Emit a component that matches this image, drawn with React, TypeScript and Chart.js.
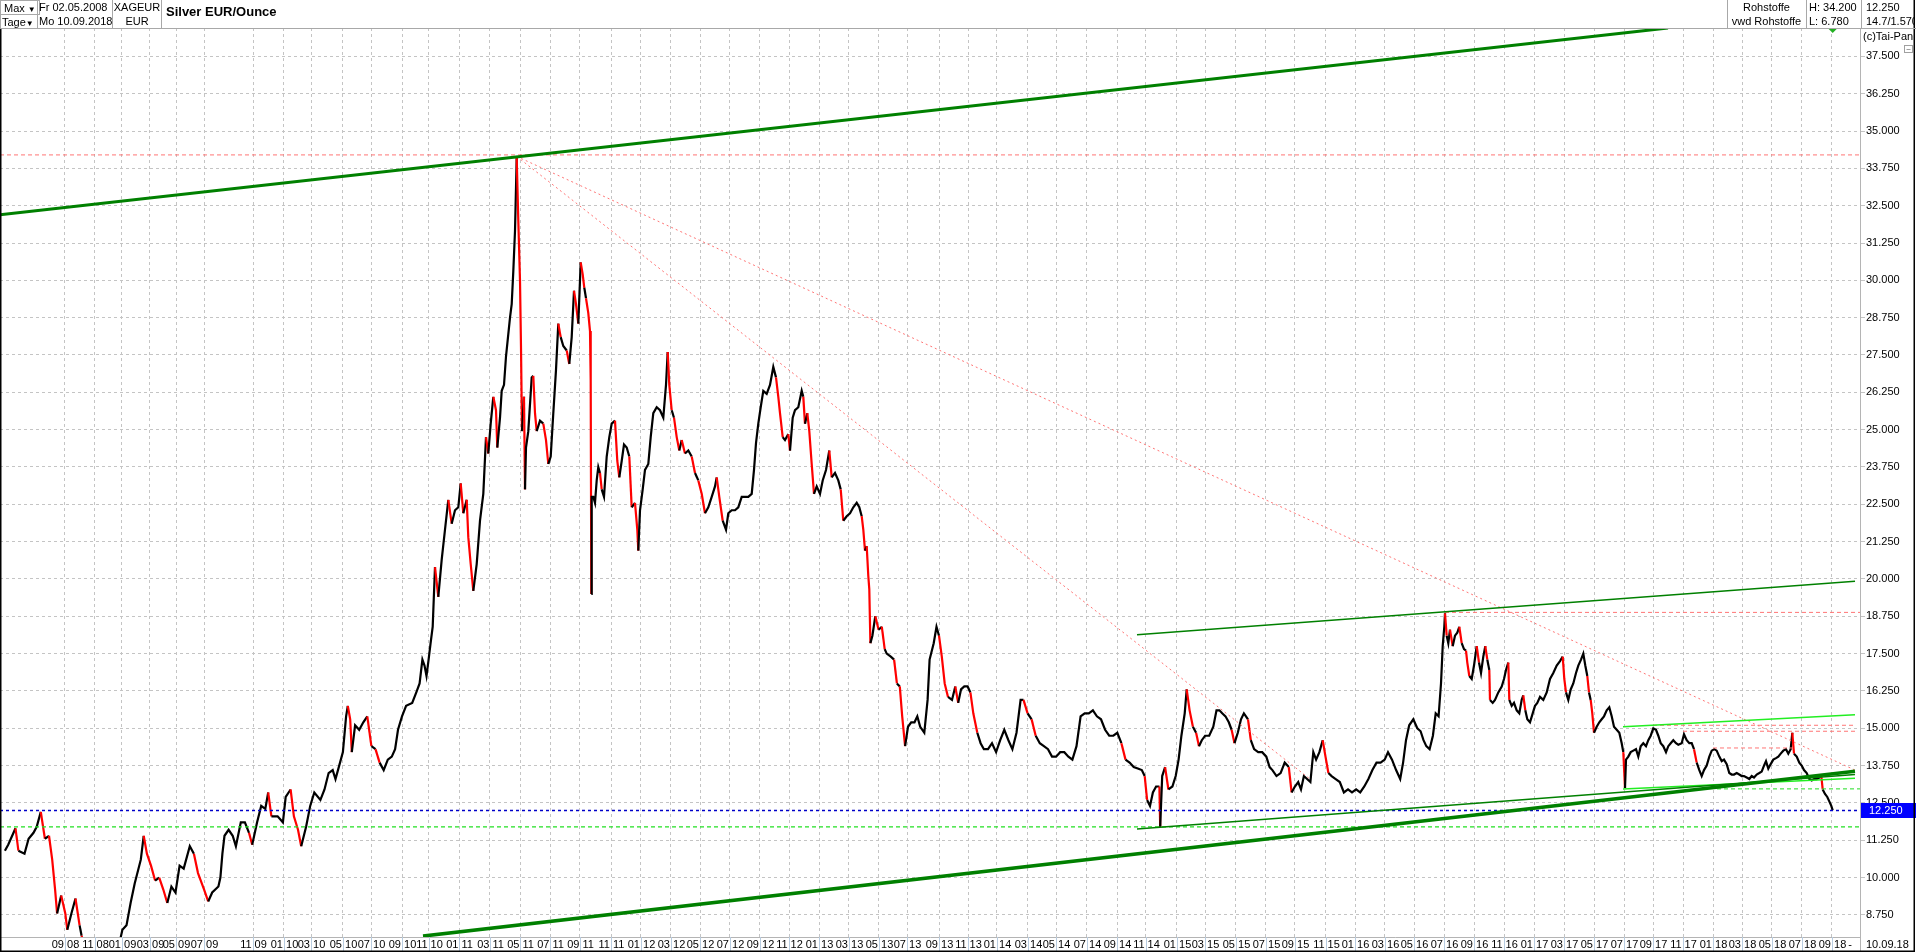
import React, { useEffect, useRef } from "react";
import { Chart, registerables } from "chart.js";

Chart.register(...registerables);

const FONT = 'Arial, "Liberation Sans", sans-serif';

// bar position (trading-bar axis) and close value of Silver EUR/Ounce
const priceBar = [
  4.9, 8.2, 15.5, 18.4, 24.5, 28.6, 33.5, 36.7, 40.8, 44.9, 49.0, 52.2, 55.1, 57.1, 61.2, 65.3, 67.3, 71.4, 75.5, 79.6,
  81.6, 86, 95, 100, 105, 112, 118, 122.4, 126.5, 130.6, 134.7, 140.8, 143.7, 146.9, 151.0, 155.1, 159.2, 163.3, 167.3, 171.4,
  175.5, 179.6, 183.7, 189.8, 193.9, 198.0, 204.1, 208.2, 212.2, 218.4, 220.4, 222.4, 224.5, 228.6, 232.7, 235.9, 240.8, 244.9, 249.0, 252.2,
  257.1, 261.2, 265.3, 268.2, 271.4, 277.6, 282.9, 285.7, 290.6, 293.9, 298.0, 301.2, 306.1, 310.2, 314.3, 320.4, 324.5, 328.6, 332.7, 335.5,
  338.8, 342.9, 346.1, 347.8, 350.2, 351.8, 355.1, 359.2, 363.3, 367.3, 371.4, 375.5, 379.6, 383.7, 387.8, 391.8, 395.1, 398.0, 402.0, 406.1,
  412.2, 416.3, 419.6, 422.4, 424.5, 426.5, 428.6, 430.6, 432.7, 435.0, 438.3, 441.7, 445.0, 448.3, 451.7, 455.0, 458.3, 460.7, 463.3, 466.7,
  468.3, 470.7, 473.3, 476.7, 480.0, 483.3, 486.0, 488.3, 490.7, 493.3, 496.0, 497.3, 500.0, 501.7, 504.0, 506.0, 508.3, 510.0, 511.7, 513.3,
  515.0, 516.7, 518.3, 520.0, 521.0, 522.0, 524.0, 525.0, 526.0, 528.3, 531.7, 533.3, 535.0, 536.7, 540.0, 543.3, 546.0, 548.3, 550.7, 553.3,
  556.0, 558.3, 560.7, 563.3, 566.7, 569.3, 571.7, 574.0, 576.0, 578.3, 580.7, 582.7, 584.3, 586.0, 588.3, 590.0, 590.7, 591.3, 591.7, 593.3,
  595.0, 596.7, 598.3, 600.0, 601.7, 604.0, 606.7, 609.3, 611.7, 615.0, 617.3, 619.3, 621.7, 624.0, 626.7, 629.3, 631.7, 635.0, 637.3, 638.3,
  640.0, 642.7, 645.0, 648.3, 650.7, 653.3, 656.7, 660.0, 663.3, 666.0, 667.7, 669.3, 671.7, 674.0, 676.7, 679.3, 681.7, 685.0, 688.3, 691.7,
  695.0, 698.3, 701.7, 705.0, 708.3, 711.7, 715.0, 716.7, 719.3, 722.7, 726.0, 728.3, 731.7, 735.0, 738.3, 741.7, 745.0, 748.3, 751.7, 754.0,
  756.0, 758.3, 760.7, 763.3, 766.7, 770.0, 773.3, 776.0, 778.3, 780.0, 782.7, 785.0, 788.3, 790.0, 792.7, 795.0, 798.3, 801.7, 803.3, 805.0,
  807.3, 809.3, 811.7, 814.0, 816.7, 820.0, 822.7, 826.0, 829.3, 831.7, 835.0, 838.3, 840.7, 843.3, 846.7, 850.0, 853.3, 856.7, 859.3, 861.7,
  863.3, 865.0, 866.7, 868.3, 869.3, 870.4, 872.4, 875.3, 878.6, 881.8, 884.7, 886.7, 890.8, 894.1, 896.9, 899.8, 902.2, 905.1, 908.0, 911.2,
  914.5, 917.3, 920.2, 924.3, 927.6, 929.6, 933.7, 936.5, 939.0, 941.8, 944.7, 948.0, 952.0, 955.3, 958.2, 961.0, 964.3, 967.6, 970.4, 973.3,
  977.3, 980.6, 983.9, 988.0, 992.0, 996.1, 1000.2, 1004.3, 1008.4, 1012.4, 1016.5, 1020.6, 1023.5, 1027.6, 1031.6, 1035.7, 1039.8, 1043.9, 1048.0, 1052.0,
  1056.1, 1060.2, 1064.3, 1068.4, 1072.4, 1076.5, 1080.6, 1084.7, 1088.8, 1092.9, 1096.9, 1101.0, 1105.1, 1109.2, 1113.3, 1117.3, 1121.4, 1125.5, 1129.6, 1133.7,
  1137.8, 1141.8, 1144.7, 1147.1, 1150.0, 1152.9, 1156.1, 1159.4, 1160.2, 1162.2, 1165.1, 1168.4, 1172.4, 1175.7, 1178.6, 1181.4, 1184.7, 1186.7, 1189.6, 1192.9,
  1196.1, 1199.0, 1201.8, 1205.1, 1209.2, 1213.3, 1216.5, 1219.4, 1222.2, 1225.5, 1228.8, 1231.6, 1234.5, 1237.8, 1241.0, 1243.9, 1248.0, 1250.8, 1254.1, 1258.2,
  1262.2, 1266.3, 1269.6, 1272.4, 1276.5, 1280.6, 1284.7, 1288.8, 1291.6, 1294.9, 1298.2, 1301.0, 1303.9, 1307.1, 1310.4, 1313.3, 1316.1, 1319.4, 1322.7, 1325.5,
  1328.4, 1331.6, 1335.7, 1339.8, 1343.9, 1348.0, 1352.0, 1356.1, 1360.2, 1364.3, 1368.4, 1372.4, 1376.5, 1380.6, 1384.7, 1388.0, 1392.0, 1396.1, 1400.2, 1403.1,
  1406.0, 1409.2, 1413.3, 1417.3, 1420.6, 1423.5, 1426.3, 1429.6, 1432.9, 1435.7, 1438.6, 1441.0, 1442.7, 1444.3, 1445.0, 1446.7, 1448.3, 1450.0, 1452.7, 1455.0,
  1457.3, 1459.3, 1461.7, 1464.0, 1466.0, 1467.3, 1469.3, 1471.7, 1474.0, 1476.7, 1479.0, 1481.0, 1483.3, 1485.3, 1487.3, 1489.3, 1490.0, 1492.7, 1495.0, 1498.3,
  1501.7, 1504.0, 1506.0, 1508.3, 1509.3, 1511.7, 1514.0, 1516.7, 1519.3, 1521.7, 1523.3, 1525.3, 1527.3, 1530.0, 1532.7, 1535.0, 1537.3, 1540.0, 1543.3, 1546.7,
  1550.0, 1553.3, 1556.7, 1560.0, 1562.7, 1564.3, 1566.0, 1568.3, 1570.7, 1573.3, 1576.0, 1578.3, 1581.0, 1583.3, 1585.3, 1587.3, 1589.0, 1590.7, 1592.3, 1594.0,
  1596.7, 1599.3, 1601.7, 1604.0, 1606.7, 1609.3, 1611.7, 1614.0, 1616.7, 1619.3, 1621.7, 1623.3, 1625.0, 1626.0, 1628.3, 1630.7, 1633.3, 1636.0, 1638.3, 1640.7,
  1643.3, 1646.0, 1648.3, 1650.7, 1653.3, 1656.0, 1658.3, 1660.7, 1663.3, 1666.0, 1668.3, 1670.7, 1673.3, 1676.0, 1678.3, 1681.7, 1684.0, 1686.7, 1689.3, 1691.7,
  1694.0, 1696.7, 1699.3, 1701.7, 1704.0, 1706.7, 1709.3, 1711.7, 1714.3, 1716.7, 1719.3, 1721.7, 1724.0, 1726.7, 1729.3, 1731.7, 1734.0, 1736.7, 1739.3, 1741.7,
  1744.0, 1746.7, 1749.3, 1751.7, 1754.0, 1756.7, 1759.3, 1761.7, 1764.0, 1766.0, 1768.3, 1770.7, 1773.3, 1776.0, 1778.3, 1780.7, 1783.3, 1786.0, 1788.3, 1790.7,
  1792.3, 1794.0, 1796.7, 1799.3, 1801.7, 1804.0, 1806.7, 1809.3, 1811.7, 1814.0, 1816.7, 1819.3, 1821.3, 1822.7, 1825.0, 1827.3, 1829.3, 1831.3, 1832.7,
];

const priceClose = [
  10.9, 11.1, 11.65, 10.9, 10.8, 11.3, 11.5, 11.7, 12.2, 11.3, 11.4, 10.6, 9.6, 8.8, 9.4, 8.8, 8.25, 8.8, 9.3, 8.4,
  8.05, 7.5, 7.7, 7.4, 7.8, 7.3, 7.6, 8.25, 8.4, 9.15, 9.8, 10.6, 11.4, 10.8, 10.4, 9.9, 10.0, 9.6, 9.15, 9.7,
  9.5, 10.4, 10.3, 11.05, 10.8, 10.15, 9.6, 9.2, 9.5, 9.7, 10.0, 10.8, 11.4, 11.6, 11.4, 11.05, 11.85, 11.85, 11.5, 11.1,
  11.85, 12.4, 12.3, 12.85, 12.05, 12.05, 11.85, 12.7, 12.95, 12.05, 11.6, 11.05, 11.7, 12.4, 12.85, 12.6, 12.95, 13.5, 13.6, 13.3,
  13.7, 14.2, 15.4, 15.75, 15.3, 14.2, 15.1, 14.95, 15.2, 15.4, 14.4, 14.3, 13.85, 13.6, 13.95, 14.05, 14.3, 14.95, 15.4, 15.75,
  15.85, 16.2, 16.5, 17.3, 17.1, 16.75, 17.3, 17.85, 18.4, 20.4, 19.4, 20.65, 21.65, 22.65, 21.85, 22.3, 22.4, 23.2, 22.2, 22.65,
  21.4, 20.5, 19.6, 20.5, 21.95, 22.85, 24.75, 24.2, 25.2, 26.1, 25.65, 24.4, 25.4, 26.3, 26.5, 27.45, 28.2, 28.75, 29.2, 30.3,
  31.65, 34.1, 32.0, 30.0, 27.75, 24.95, 26.1, 23.0, 24.4, 24.95, 26.75, 26.8, 25.55, 24.95, 25.3, 25.2, 24.65, 23.85, 24.1, 25.55,
  27.0, 28.55, 28.1, 27.8, 27.65, 27.2, 28.1, 29.65, 29.2, 28.55, 30.6, 30.2, 29.75, 29.4, 28.9, 28.3, 26.65, 19.5, 22.75, 22.75,
  22.55, 23.3, 23.75, 23.55, 23.0, 22.75, 24.1, 24.75, 25.2, 25.3, 23.95, 23.4, 23.95, 24.5, 24.4, 24.1, 22.4, 22.55, 21.65, 20.95,
  22.3, 23.0, 23.65, 23.85, 24.75, 25.55, 25.75, 25.65, 25.4, 26.5, 27.6, 26.5, 25.65, 25.4, 24.75, 24.3, 24.65, 24.2, 24.3, 24.1,
  23.55, 23.3, 22.85, 22.2, 22.4, 22.75, 23.1, 23.4, 22.75, 21.95, 21.65, 22.2, 22.3, 22.3, 22.4, 22.75, 22.75, 22.75, 22.85, 23.65,
  24.55, 25.2, 25.75, 26.3, 26.2, 26.5, 27.1, 26.75, 26.1, 25.55, 24.75, 24.65, 24.85, 24.3, 25.4, 25.65, 25.75, 26.3, 26.1, 25.2,
  25.55, 24.95, 23.85, 22.85, 23.1, 22.85, 23.3, 23.65, 24.3, 23.4, 23.55, 23.3, 23.0, 21.95, 22.1, 22.2, 22.4, 22.55, 22.4, 22.1,
  21.65, 20.95, 21.1, 20.1, 19.65, 17.85, 18.1, 18.75, 18.3, 18.4, 17.65, 17.5, 17.4, 17.3, 16.5, 16.4, 15.4, 14.4, 15.05, 15.2,
  15.2, 15.4, 15.05, 14.85, 15.95, 17.3, 17.85, 18.4, 18.1, 17.4, 16.5, 16.05, 15.95, 16.4, 15.85, 16.3, 16.4, 16.4, 16.2, 15.5,
  14.85, 14.5, 14.3, 14.3, 14.5, 14.2, 14.6, 14.95, 14.6, 14.3, 14.85, 15.95, 15.95, 15.5, 15.3, 14.75, 14.5, 14.4, 14.3, 14.05,
  14.05, 14.2, 14.2, 14.05, 13.95, 14.4, 15.4, 15.5, 15.5, 15.6, 15.4, 15.3, 14.95, 14.75, 14.75, 14.85, 14.5, 13.95, 13.85, 13.7,
  13.65, 13.6, 13.4, 12.6, 12.4, 12.85, 13.05, 13.05, 11.7, 13.4, 13.7, 12.95, 13.05, 13.4, 13.95, 14.75, 15.5, 16.3, 15.6, 15.05,
  14.85, 14.4, 14.6, 14.75, 14.75, 15.05, 15.6, 15.6, 15.5, 15.4, 15.2, 14.95, 14.5, 14.85, 15.3, 15.5, 15.3, 14.6, 14.3, 14.2,
  14.2, 14.05, 13.7, 13.6, 13.4, 13.5, 13.85, 13.7, 12.85, 13.05, 13.2, 12.95, 13.4, 13.3, 13.2, 14.2, 13.95, 14.2, 14.6, 14.05,
  13.5, 13.4, 13.3, 13.2, 12.85, 12.95, 12.85, 12.95, 12.85, 13.05, 13.3, 13.6, 13.85, 13.85, 13.95, 14.2, 13.95, 13.6, 13.3, 13.85,
  14.6, 15.1, 15.3, 15.0, 14.9, 14.6, 14.4, 14.3, 14.75, 15.5, 15.4, 16.5, 17.75, 18.4, 18.85, 18.1, 17.85, 18.3, 17.75, 18.1,
  18.2, 18.4, 17.85, 17.65, 17.6, 17.2, 16.75, 16.65, 17.1, 17.75, 17.2, 16.85, 17.4, 17.75, 17.3, 16.95, 15.95, 15.85, 15.95, 16.2,
  16.4, 16.65, 16.95, 17.2, 15.95, 15.75, 15.85, 15.6, 15.5, 15.95, 16.1, 15.6, 15.3, 15.2, 15.5, 15.75, 15.85, 16.05, 15.95, 16.2,
  16.65, 16.85, 17.1, 17.25, 17.4, 16.65, 16.2, 15.95, 16.3, 16.5, 16.85, 17.1, 17.3, 17.5, 17.1, 16.75, 16.2, 15.95, 15.5, 14.85,
  15.05, 15.2, 15.3, 15.4, 15.6, 15.7, 15.4, 15.05, 14.95, 14.85, 14.5, 14.2, 13.0, 13.95, 14.05, 14.2, 14.25, 14.3, 14.05, 14.4,
  14.5, 14.4, 14.6, 14.75, 15.0, 14.95, 14.75, 14.5, 14.4, 14.2, 14.4, 14.5, 14.6, 14.5, 14.45, 14.5, 14.8, 14.6, 14.5, 14.5,
  14.3, 13.85, 13.6, 13.4, 13.6, 13.75, 14.05, 14.25, 14.3, 14.25, 14.05, 13.9, 13.95, 13.8, 13.5, 13.45, 13.45, 13.5, 13.45, 13.4,
  13.4, 13.35, 13.3, 13.4, 13.35, 13.45, 13.5, 13.55, 13.75, 13.9, 13.65, 13.8, 13.95, 14.0, 14.05, 14.15, 14.25, 14.3, 14.15, 14.3,
  14.85, 14.15, 14.05, 13.85, 13.75, 13.6, 13.5, 13.3, 13.25, 13.3, 13.3, 13.35, 13.4, 12.95, 12.8, 12.7, 12.55, 12.4, 12.25,
];

const yTicks = [8.75, 10, 11.25, 12.5, 13.75, 15, 16.25, 17.5, 18.75, 20, 21.25, 22.5, 23.75, 25, 26.25, 27.5, 28.75, 30, 31.25, 32.5, 33.75, 35, 36.25, 37.5];

const xTickPos = [
  64.5, 94.7, 121.6, 149.8, 176.3, 204.1, 253, 283.7, 311.4, 342.9, 371.4, 402, 428.6, 459.2, 489.8, 520.4, 550.2, 579.6, 611, 640.7,
  670.5, 700.2, 729.9, 759.6, 789.4, 819.1, 848.8, 878.6, 907.1, 939, 968.4, 996.9, 1027.6, 1056.1, 1086.7, 1117.3, 1145.9, 1176.5, 1205.1, 1235.7,
  1265.5, 1294.9, 1325.5, 1355.3, 1384.7, 1414.4, 1444.1, 1474.4, 1504.3, 1534.3, 1564.3, 1594.3, 1624.3, 1653.3, 1683.3, 1713.3, 1742.3, 1771.7, 1801.7, 1831.7,
];
const xTickLabels = [
  "09 08", "11 08", "01 09", "03 09", "05 09", "07 09", "11 09", "01 10", "03 10", "05 10", "07 10", "09 10", "11 10", "01 11", "03 11", "05 11", "07 11", "09 11", "11 11", "01 12",
  "03 12", "05 12", "07 12", "09 12", "11 12", "01 13", "03 13", "05 13", "07 13", "09 13", "11 13", "01 14", "03 14", "05 14", "07 14", "09 14", "11 14", "01 15", "03 15", "05 15",
  "07 15", "09 15", "11 15", "01 16", "03 16", "05 16", "07 16", "09 16", "11 16", "01 17", "03 17", "05 17", "07 17", "09 17", "11 17", "01 18", "03 18", "05 18", "07 18", "09 18",
];

// drawn trend lines / levels: [bar, value] anchors
const longResistance = [[0, 32.2], [1668, 38.45]];
const longSupport = [[423, 8.04], [1855, 13.56]];
const channelTop = [[1137, 18.13], [1855, 19.92]];
const channelBottom = [[1137, 11.63], [1855, 13.45]];
const shortTop = [[1623, 15.05], [1855, 15.45]];
const shortBottom = [[1623, 12.97], [1855, 13.33]];
const levelShortDash = [[1717, 12.97], [1860, 12.97]];
const highLevel = [[0, 34.2], [1860, 34.2]];
const diagFlat = [[516.7, 34.15], [1855, 13.6]];
const diagSteep = [[516.7, 34.15], [1310, 13.3]];
const level2016 = [[1445, 18.88], [1860, 18.88]];
const level2017a = [[1653, 15.1], [1855, 15.1]];
const level2017b = [[1683, 14.9], [1855, 14.9]];
const level2018 = [[1713, 14.34], [1793, 14.34]];
const lastLevel = [[0, 12.25], [1860, 12.25]];
const lowLevel = [[0, 11.7], [1860, 11.7]];

const LAST_TEXT = "12.250";
const LAST_VALUE = 12.25;

const pts = (a: number[][]) => a.map(([x, y]) => ({ x, y }));

const overlay = {
  id: "taipanOverlay",
  afterDraw(chart: any) {
    const { ctx, chartArea, scales } = chart;
    const xs = scales.x;
    const ys = scales.y;
    const W = chart.width;
    const H = chart.height;
    ctx.save();
    ctx.font = `11px ${FONT}`;
    ctx.textBaseline = "middle";
    ctx.textAlign = "center";
    ctx.fillStyle = "#000";
    const rowY = (chartArea.bottom + H) / 2 + 0.5;
    xTickPos.forEach((v, i) => {
      const px = Math.round(xs.getPixelForValue(v)) + 0.5;
      ctx.strokeStyle = "#b8cce0";
      ctx.lineWidth = 1;
      ctx.beginPath();
      ctx.moveTo(px, chartArea.bottom);
      ctx.lineTo(px, H);
      ctx.stroke();
      ctx.fillText(xTickLabels[i], px, rowY);
    });
    ctx.fillText("-", xs.getPixelForValue(1850), rowY);
    ctx.strokeStyle = "#b4b4b4";
    ctx.beginPath();
    ctx.moveTo(chartArea.right + 0.5, chartArea.bottom);
    ctx.lineTo(chartArea.right + 0.5, H);
    ctx.stroke();
    ctx.textAlign = "left";
    ctx.fillText("10.09.18", chartArea.right + 6, rowY);

    const ly = ys.getPixelForValue(LAST_VALUE);
    ctx.fillStyle = "#0000ff";
    ctx.fillRect(chartArea.right + 1, Math.round(ly) - 7, W - chartArea.right - 1, 15);
    ctx.fillStyle = "#ffffff";
    ctx.fillText(LAST_TEXT, chartArea.right + 9, Math.round(ly) + 1);

    const mx = xs.getPixelForValue(priceBar[priceBar.length - 1]);
    ctx.fillStyle = "#22b022";
    ctx.beginPath();
    ctx.moveTo(mx - 4, chartArea.top + 1);
    ctx.lineTo(mx + 4, chartArea.top + 1);
    ctx.lineTo(mx, chartArea.top + 5);
    ctx.closePath();
    ctx.fill();

    ctx.fillStyle = "#000";
    ctx.textAlign = "left";
    ctx.fillText("(c)Tai-Pan", chartArea.right + 3, chartArea.top + 9);
    ctx.strokeStyle = "#a0a0a0";
    ctx.strokeRect(W - 11.5, chartArea.top + 17.5, 8, 7);
    ctx.beginPath();
    ctx.moveTo(W - 9.5, chartArea.top + 21.5);
    ctx.lineTo(W - 5.5, chartArea.top + 21.5);
    ctx.stroke();

    ctx.strokeStyle = "#000";
    ctx.lineWidth = 1.5;
    ctx.beginPath();
    ctx.moveTo(0.75, chartArea.top);
    ctx.lineTo(0.75, H - 0.75);
    ctx.lineTo(W - 1.75, H - 0.75);
    ctx.lineTo(W - 1.75, 0);
    ctx.stroke();
    ctx.restore();
  },
};

function lineDs(data: number[][], color: string, width: number, dash: number[] = []) {
  return {
    type: "line" as const,
    data: pts(data),
    borderColor: color,
    borderWidth: width,
    borderDash: dash,
    pointRadius: 0,
    fill: false,
    tension: 0,
  };
}

export default function App() {
  const ref = useRef<HTMLCanvasElement | null>(null);

  useEffect(() => {
    document.body.style.margin = "0";
    Chart.defaults.font.family = FONT;
    const canvas = ref.current;
    if (!canvas) return;
    const RED = "rgba(255,110,110,0.95)";
    const chart = new Chart(canvas, {
      type: "line",
      data: {
        datasets: [
          lineDs(longResistance, "#008000", 3),
          lineDs(longSupport, "#008000", 3.5),
          lineDs(channelTop, "#008000", 1.5),
          lineDs(channelBottom, "#008000", 1.5),
          lineDs(shortTop, "#22ee22", 1.5),
          lineDs(shortBottom, "#22ee22", 1.5),
          lineDs(levelShortDash, "#22dd22", 1, [4, 3]),
          lineDs(highLevel, RED, 1, [4, 3]),
          lineDs(diagFlat, RED, 1, [2, 3]),
          lineDs(diagSteep, RED, 1, [2, 3]),
          lineDs(level2016, RED, 1, [4, 3]),
          lineDs(level2017a, RED, 1, [4, 3]),
          lineDs(level2017b, RED, 1, [4, 3]),
          lineDs(level2018, RED, 1, [4, 3]),
          lineDs(lastLevel, "#0000c8", 1.5, [3, 3]),
          lineDs(lowLevel, "#22e022", 1.2, [4, 3]),
          {
            type: "line" as const,
            data: priceBar.map((x, i) => ({ x, y: priceClose[i] })),
            borderColor: "#000",
            borderWidth: 2.2,
            pointRadius: 0,
            tension: 0,
            fill: false,
            segment: {
              borderColor: (c: any) => (c.p0.parsed.y - c.p1.parsed.y > 0.4 ? "#ff0000" : "#000000"),
            },
          },
        ],
      },
      options: {
        responsive: false,
        animation: false,
        events: [],
        layout: { padding: { top: 28, left: 0, right: 0, bottom: 0 } },
        plugins: { legend: { display: false }, tooltip: { enabled: false } },
        scales: {
          x: {
            type: "linear",
            position: "bottom",
            min: 0,
            max: 1860,
            afterBuildTicks: (s: any) => {
              s.ticks = xTickPos.map((v) => ({ value: v }));
            },
            afterFit: (s: any) => {
              s.height = 15;
            },
            ticks: { display: false },
            grid: { color: "#c4c4c4", drawTicks: false, tickLength: 0 },
            border: { display: true, color: "#b4b4b4", dash: [3, 3] },
          },
          y: {
            type: "linear",
            position: "right",
            min: 8.01,
            max: 38.45,
            afterBuildTicks: (s: any) => {
              s.ticks = yTicks.map((v) => ({ value: v }));
            },
            afterFit: (s: any) => {
              s.width = 56;
            },
            ticks: {
              callback: (v: any) => Number(v).toFixed(3),
              color: "#000",
              font: { family: FONT, size: 11 },
              padding: 1,
              autoSkip: false,
            },
            grid: { color: "#c4c4c4", drawTicks: true, tickLength: 5 },
            border: { display: true, color: "#b4b4b4", dash: [3, 3] },
          },
        },
      },
      plugins: [overlay],
    } as any);
    return () => chart.destroy();
  }, []);

  const cell: React.CSSProperties = {
    position: "absolute",
    fontSize: 11,
    lineHeight: "14px",
    whiteSpace: "nowrap",
    color: "#000",
  };
  const vline = (x: number): React.CSSProperties => ({
    position: "absolute",
    left: x,
    top: 0,
    width: 1,
    height: 28,
    background: "#a8a8a8",
  });

  return (
    <div style={{ position: "absolute", left: 0, top: 0, width: 1916, height: 952, background: "#fff", overflow: "hidden", fontFamily: FONT }}>
      <canvas ref={ref} width={1916} height={952} style={{ position: "absolute", left: 0, top: 0, width: 1916, height: 952 }} />
      <div style={{ position: "absolute", left: 0, top: 28, width: 1916, height: 1, background: "#a8a8a8" }} />
      <div style={{ ...cell, left: 0, top: 0, width: 35, height: 13, border: "1px solid #a8a8a8", paddingLeft: 3 }}>
        Max <span style={{ fontSize: 8 }}>▼</span>
      </div>
      <div style={{ ...cell, left: 0, top: 14, width: 35, height: 13, border: "1px solid #a8a8a8", paddingLeft: 1 }}>
        Tage<span style={{ fontSize: 8 }}>▼</span>
      </div>
      <div style={vline(37)} />
      <div style={{ ...cell, left: 39, top: 0 }}>Fr 02.05.2008</div>
      <div style={{ ...cell, left: 39, top: 14 }}>Mo 10.09.2018</div>
      <div style={vline(112)} />
      <div style={{ ...cell, left: 113, top: 0, width: 48, textAlign: "center" }}>XAGEUR</div>
      <div style={{ ...cell, left: 113, top: 14, width: 48, textAlign: "center" }}>EUR</div>
      <div style={vline(161)} />
      <div style={{ ...cell, left: 166, top: 4, fontSize: 13, fontWeight: "bold", lineHeight: "16px" }}>Silver EUR/Ounce</div>
      <div style={vline(1727)} />
      <div style={{ ...cell, left: 1727, top: 0, width: 79, textAlign: "center" }}>Rohstoffe</div>
      <div style={{ ...cell, left: 1727, top: 14, width: 79, textAlign: "center" }}>vwd Rohstoffe</div>
      <div style={vline(1806)} />
      <div style={{ ...cell, left: 1809, top: 0 }}>H: 34.200</div>
      <div style={{ ...cell, left: 1809, top: 14 }}>L: 6.780</div>
      <div style={vline(1861)} />
      <div style={{ ...cell, left: 1866, top: 0 }}>12.250</div>
      <div style={{ ...cell, left: 1866, top: 14, width: 48, overflow: "hidden" }}>14.7/1.570</div>
    </div>
  );
}
